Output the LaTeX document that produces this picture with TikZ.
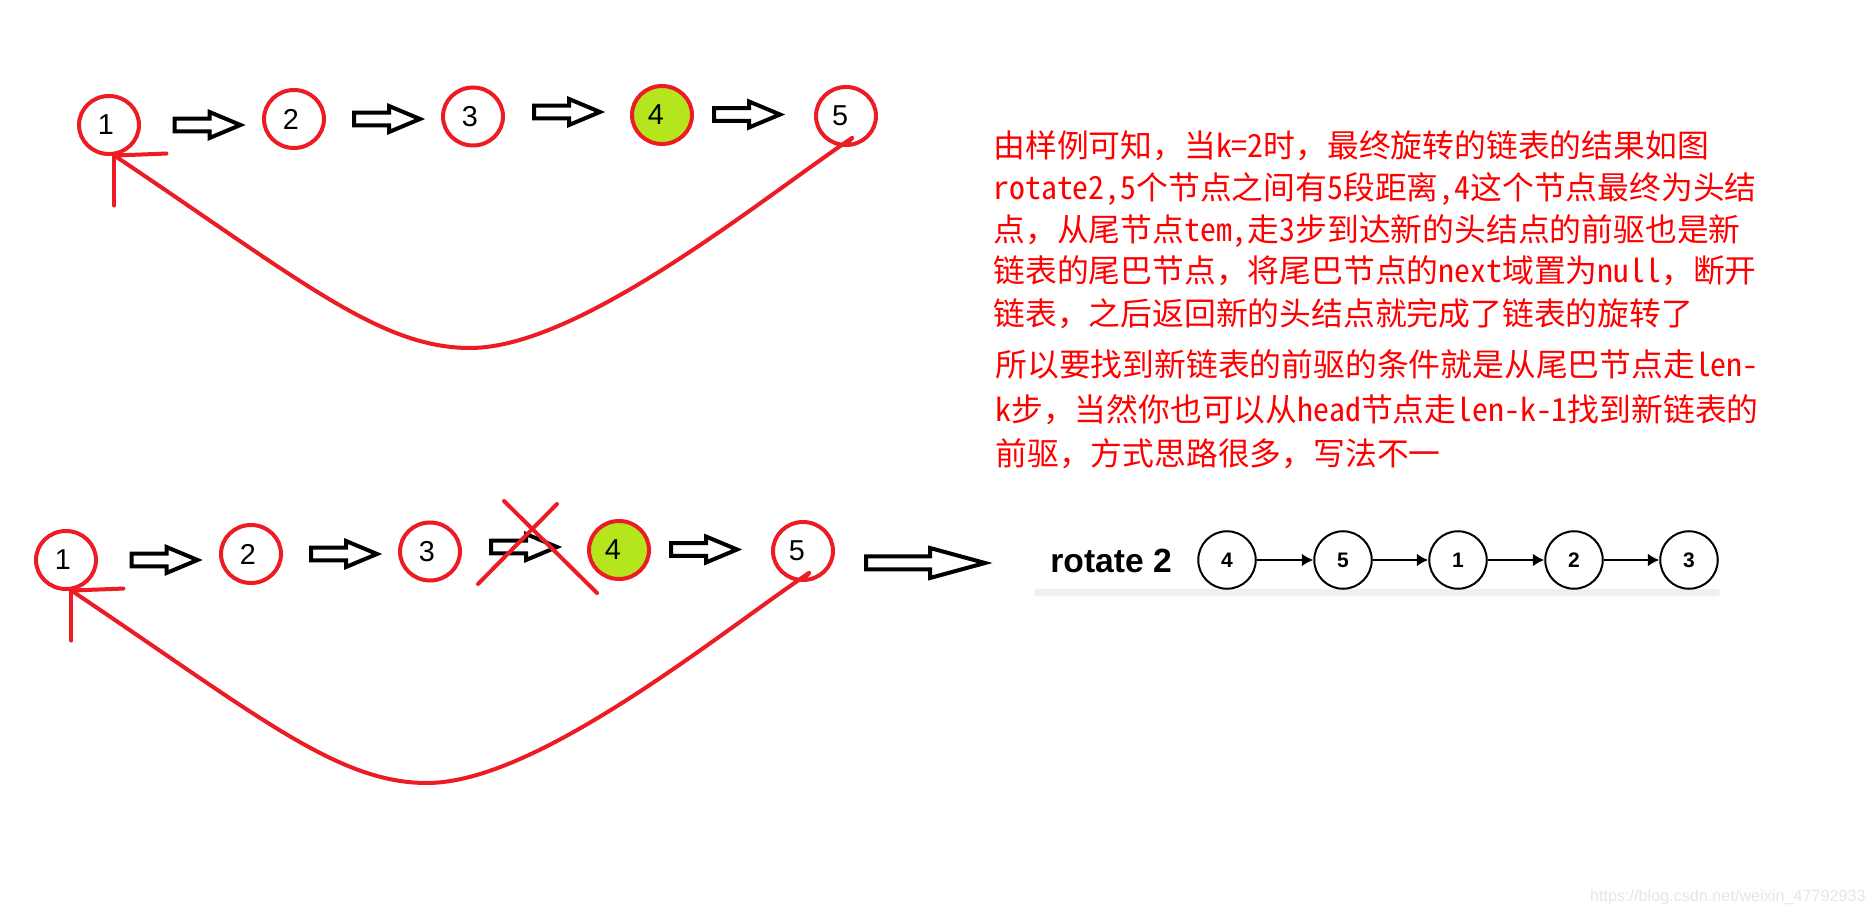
\documentclass[tikz,border=0pt]{standalone}
\usepackage{fontspec}
\setmainfont{Liberation Sans}
\newfontfamily\cjk[RawFeature=+hwid]{Noto Sans CJK SC}
\newfontfamily\cjkfw{Noto Sans CJK SC}
\newcommand\fc{{\cjkfw ，}}
\usetikzlibrary{shapes.geometric,arrows.meta}
\definecolor{pred}{HTML}{ED1C24}
\definecolor{plime}{HTML}{B5E61D}
\definecolor{tred}{HTML}{FF0000}
\definecolor{wmgray}{HTML}{E6E6E6}
\definecolor{bandgray}{HTML}{F0F0F0}
\tikzset{
  rc/.style={ellipse, draw=pred, line width=2pt, minimum width=30pt, minimum height=29pt, inner sep=0pt},
  gc/.style={rc, fill=plime},
  lab/.style={text=black, inner sep=0pt, font=\fontsize{14.4pt}{14.4pt}\selectfont},
  blk/.style={draw=black, line width=2pt, fill=white, line join=miter},
  redl/.style={draw=pred, line width=2pt, line cap=round},
  bc/.style={circle, draw=black, line width=1pt, minimum size=28.75pt, inner sep=0pt, font=\bfseries\fontsize{10.5pt}{10.5pt}\selectfont},
  thinarrow/.style={draw=black, line width=1pt, -{Latex[length=5.75pt,width=6.5pt]}},
  txt/.style={anchor=base west, inner sep=0pt, text=tred, font=\cjk\fontsize{15.9pt}{15.9pt}\selectfont},
}
\newcommand\smallarrow[1]{\draw[blk] (#1) ++(0,-6.3) -- ++(35,0) -- ++(0,-6.7) -- ++(31,13) -- ++(-31,13) -- ++(0,-6.7) -- ++(-35,0) -- cycle;}
\begin{document}
\begin{tikzpicture}[x=0.5pt,y=-0.5pt]
\fill[white] (0,0) rectangle (1875,914);
\useasboundingbox (0,0) rectangle (1875,914);

% ---------- top row ----------
\node[rc, label={[lab, xshift=-1.5pt]center:1}] (a1) at (109,125) {};
\node[rc, label={[lab, xshift=-1.5pt]center:2}] (a2) at (294,119) {};
\node[rc, label={[lab, xshift=-1.5pt]center:3}] (a3) at (473,116.5) {};
\node[gc, label={[lab, xshift=-3pt]center:4}] (a4) at (662,115) {};
\node[rc, label={[lab, xshift=-3pt]center:5}] (a5) at (846,116) {};
\coordinate (ta1) at (174.5,125);
\coordinate (ta2) at (354,119);
\coordinate (ta3) at (534,112);
\coordinate (ta4) at (714,114.5);
\smallarrow{ta1}\smallarrow{ta2}\smallarrow{ta3}\smallarrow{ta4}
\coordinate (am) at (470,348);
\draw[redl] ([shift={(6,22)}]a5.center) .. controls (760,200) and (580,348) .. (am)
  .. controls (380,348) and (300,280) .. (a1.-80);
\draw[redl] (a1.-80) -- ++(52,-2);
\draw[redl] (a1.-80) -- ++(0,50);
\draw[redl] ([shift={(6,22)}]a5.center) -- ++(-6,7);

% ---------- bottom row ----------
\node[rc, label={[lab, xshift=-1.5pt]center:1}] (b1) at (66,560) {};
\node[rc, label={[lab, xshift=-1.5pt]center:2}] (b2) at (251,554) {};
\node[rc, label={[lab, xshift=-1.5pt]center:3}] (b3) at (430,551.5) {};
\node[gc, label={[lab, xshift=-3pt]center:4}] (b4) at (619,550) {};
\node[rc, label={[lab, xshift=-3pt]center:5}] (b5) at (803,551) {};
\coordinate (tb1) at (131.5,560);
\coordinate (tb2) at (311,554);
\coordinate (tb3) at (491,547);
\coordinate (tb4) at (671,549.5);
\smallarrow{tb1}\smallarrow{tb2}\smallarrow{tb3}\smallarrow{tb4}
\draw[redl] (504,501) -- (597,593);
\draw[redl] (557,504) -- (478,584);
\coordinate (bm) at (427,783);
\draw[redl] ([shift={(6,22)}]b5.center) .. controls (717,635) and (537,783) .. (bm)
  .. controls (337,783) and (257,715) .. (b1.-80);
\draw[redl] (b1.-80) -- ++(52,-2);
\draw[redl] (b1.-80) -- ++(0,50);
\draw[redl] ([shift={(6,22)}]b5.center) -- ++(-6,7);

% big arrow
\coordinate (big) at (866,563);
\draw[blk] (big) ++(0,-6.5) -- ++(64,0) -- ++(0,-8.5) -- ++(55,15) -- ++(-55,15) -- ++(0,-8.5) -- ++(-64,0) -- cycle;

% ---------- rotate 2 picture ----------
\fill[bandgray, rounded corners=1.5pt] (1034,589) rectangle (1720,596);
\node[anchor=base west, inner sep=0pt, font=\bfseries\fontsize{16.8pt}{16.8pt}\selectfont] (rot) at (1050,573) {rotate 2};
\node[bc] (r4) at (1227,560) {4};
\node[bc] (r5) at (1343,560) {5};
\node[bc] (r1) at (1458,560) {1};
\node[bc] (r2) at (1574,560) {2};
\node[bc] (r3) at (1689,560) {3};
\draw[thinarrow] (r4) -- (r5);
\draw[thinarrow] (r5) -- (r1);
\draw[thinarrow] (r1) -- (r2);
\draw[thinarrow] (r2) -- (r3);

% ---------- red text ----------
\node[txt] (l1) at (993,158) {由样例可知\fc 当k=2时\fc 最终旋转的链表的结果如图};
\node[txt] (l2) at (993,200) {rotate2,5个节点之间有5段距离,4这个节点最终为头结};
\node[txt] (l3) at (993,242) {点\fc 从尾节点tem,走3步到达新的头结点的前驱也是新};
\node[txt] (l4) at (993,283) {链表的尾巴节点\fc 将尾巴节点的next域置为null\fc 断开};
\node[txt] (l5) at (993,326) {链表\fc 之后返回新的头结点就完成了链表的旋转了};
\node[txt] (l6) at (995,377) {所以要找到新链表的前驱的条件就是从尾巴节点走len-};
\node[txt] (l7) at (995,422) {k步\fc 当然你也可以从head节点走len-k-1找到新链表的};
\node[txt] (l8) at (995,466) {前驱\fc 方式思路很多\fc 写法不一};

% watermark
\node[anchor=base east, inner sep=0pt, text=wmgray, font=\fontsize{8.1pt}{8.1pt}\selectfont] (wm) at (1866,901) {https://blog.csdn.net/weixin\_47792933};
\end{tikzpicture}
\end{document}
